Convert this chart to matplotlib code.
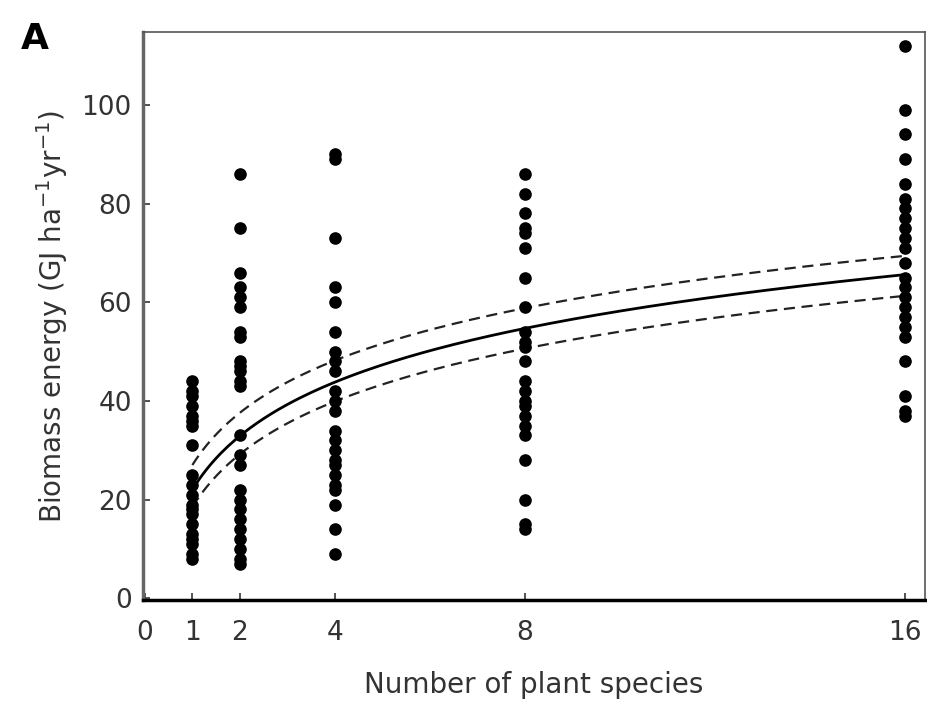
import numpy as np
import matplotlib
matplotlib.use("Agg")
import matplotlib.pyplot as plt

plt.rcParams['font.family'] = ['DejaVu Sans']

# observed biomass energy per plot, grouped by species richness
y1 = [44, 42, 41, 39, 37, 36, 35, 31, 25, 23, 21, 19, 18, 17, 15, 13, 12, 11, 9, 8]
y2 = [86, 75, 66, 63, 61, 59, 54, 53, 48, 47, 46, 44, 43, 33, 29, 27, 22, 20, 18, 16,
      14, 12, 10, 8, 7]
y4 = [90, 89, 73, 63, 60, 54, 50, 48, 46, 42, 40, 38, 34, 32, 30, 28, 27, 25, 23, 22,
      19, 14, 9]
y8 = [86, 82, 78, 75, 74, 71, 65, 59, 54, 52, 51, 48, 44, 42, 40, 39, 37, 35, 33, 28,
      20, 15, 14]
y16 = [112, 99, 94, 89, 84, 81, 79, 77, 75, 73, 71, 68, 65, 63, 61, 59, 57, 55, 53,
       48, 41, 38, 37]
groups = {1: y1, 2: y2, 4: y4, 8: y8, 16: y16}

# log2 fit and confidence band: (intercept, slope)
fit = (22.0, 10.9)
upper = (27.0, 10.6)
lower = (18.5, 10.7)

fig = plt.figure(figsize=(9.28, 7.07), dpi=100)
ax = fig.add_axes([0.154, 0.151, 0.843, 0.804])

for n, vals in groups.items():
    ax.scatter([n] * len(vals), vals, s=65, color='black', zorder=3)

xs = np.linspace(1, 16, 200)
ax.plot(xs, fit[0] + fit[1] * np.log2(xs), color='black', lw=2.0)
ax.plot(xs, upper[0] + upper[1] * np.log2(xs), color='#222222', lw=1.6, ls=(0, (5, 3)))
ax.plot(xs, lower[0] + lower[1] * np.log2(xs), color='#222222', lw=1.6, ls=(0, (5, 3)))

ax.set_xlim(-0.04, 16.42)
ax.set_ylim(-0.4, 114.8)
ax.set_xticks([0, 1, 2, 4, 8, 16])
ax.set_yticks([0, 20, 40, 60, 80, 100])
ax.tick_params(direction='in', length=5, width=1.2, labelsize=19, colors='#333333')
ax.tick_params(axis='x', pad=14)
ax.tick_params(axis='y', pad=8)
for sp in ax.spines.values():
    sp.set_linewidth(1.2)
    sp.set_color('#555555')
ax.spines['left'].set_linewidth(2.5)
ax.spines['left'].set_color('#666666')
ax.spines['bottom'].set_linewidth(2.5)
ax.spines['bottom'].set_color('black')

ax.set_xlabel('Number of plant species', fontsize=20, color='#333333', labelpad=18)
ax.set_ylabel('Biomass energy (GJ ha$^{-1}$yr$^{-1}$)', fontsize=20, color='#333333', labelpad=8)
fig.text(0.022, 0.93, 'A', fontsize=26, fontweight='bold')

fig.savefig('out.png', dpi=100)
